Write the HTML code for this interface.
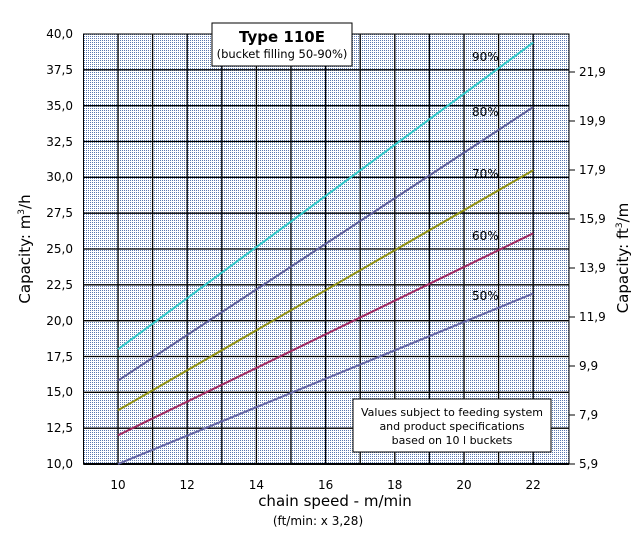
<!DOCTYPE html>
<html><head><meta charset="utf-8"><style>
html,body{margin:0;padding:0;background:#fff;}
svg{display:block;font-family:"DejaVu Sans","Liberation Sans",sans-serif;}
</style></head><body>
<svg width="637" height="540" viewBox="0 0 637 540" xmlns="http://www.w3.org/2000/svg">
<defs>
<pattern id="dots" x="0" y="0" width="2" height="2" patternUnits="userSpaceOnUse">
<rect width="2" height="2" fill="#ffffff" shape-rendering="crispEdges"/>
<rect width="1" height="1" fill="#5a78b0" shape-rendering="crispEdges"/>
</pattern>
</defs>
<rect x="83.5" y="34" width="485.5" height="430" fill="url(#dots)" stroke="#000" stroke-width="1"/>
<g stroke="#000" stroke-width="1.3">
<line x1="118" y1="34" x2="118" y2="464"/><line x1="152.6" y1="34" x2="152.6" y2="464"/>
<line x1="187.2" y1="34" x2="187.2" y2="464"/><line x1="221.8" y1="34" x2="221.8" y2="464"/>
<line x1="256.4" y1="34" x2="256.4" y2="464"/><line x1="291" y1="34" x2="291" y2="464"/>
<line x1="325.6" y1="34" x2="325.6" y2="464"/><line x1="360.2" y1="34" x2="360.2" y2="464"/>
<line x1="394.8" y1="34" x2="394.8" y2="464"/><line x1="429.4" y1="34" x2="429.4" y2="464"/>
<line x1="464" y1="34" x2="464" y2="464"/><line x1="498.6" y1="34" x2="498.6" y2="464"/>
<line x1="533.2" y1="34" x2="533.2" y2="464"/>
<line x1="83.5" y1="69.8" x2="569" y2="69.8"/><line x1="83.5" y1="105.7" x2="569" y2="105.7"/>
<line x1="83.5" y1="141.5" x2="569" y2="141.5"/><line x1="83.5" y1="177.3" x2="569" y2="177.3"/>
<line x1="83.5" y1="213.2" x2="569" y2="213.2"/><line x1="83.5" y1="249" x2="569" y2="249"/>
<line x1="83.5" y1="284.8" x2="569" y2="284.8"/><line x1="83.5" y1="320.7" x2="569" y2="320.7"/>
<line x1="83.5" y1="356.5" x2="569" y2="356.5"/><line x1="83.5" y1="392.3" x2="569" y2="392.3"/>
<line x1="83.5" y1="428.2" x2="569" y2="428.2"/>
<line x1="83.5" y1="464" x2="569" y2="464" stroke-width="2"/>
</g>
<g stroke="#000" stroke-width="1">
<line x1="569" y1="72" x2="575" y2="72"/><line x1="569" y1="121" x2="575" y2="121"/>
<line x1="569" y1="170" x2="575" y2="170"/><line x1="569" y1="219" x2="575" y2="219"/>
<line x1="569" y1="268" x2="575" y2="268"/><line x1="569" y1="317" x2="575" y2="317"/>
<line x1="569" y1="366" x2="575" y2="366"/><line x1="569" y1="415" x2="575" y2="415"/>
<line x1="569" y1="464" x2="575" y2="464"/>
</g>
<g stroke-width="2" fill="none">
<line x1="118" y1="349.3" x2="533.2" y2="42.6" stroke="#30c8c8"/>
<line x1="118" y1="380.6" x2="533.2" y2="107.1" stroke="#5c5c98"/>
<line x1="118" y1="410.3" x2="533.2" y2="170.2" stroke="#909010"/>
<line x1="118" y1="435.3" x2="533.2" y2="233.3" stroke="#a02860"/>
<line x1="118" y1="464" x2="533.2" y2="293.5" stroke="#6464a4"/>
</g>
<g font-size="12" fill="#000">
<text x="472" y="61">90%</text><text x="472" y="116">80%</text>
<text x="472" y="178">70%</text><text x="472" y="240">60%</text>
<text x="472" y="300">50%</text>
</g>
<g font-size="12" fill="#000" text-anchor="end">
<text x="73" y="38">40,0</text><text x="73" y="74">37,5</text><text x="73" y="110">35,0</text>
<text x="73" y="146">32,5</text><text x="73" y="181">30,0</text><text x="73" y="217">27,5</text>
<text x="73" y="253">25,0</text><text x="73" y="289">22,5</text><text x="73" y="325">20,0</text>
<text x="73" y="361">17,5</text><text x="73" y="396">15,0</text><text x="73" y="432">12,5</text>
<text x="73" y="468">10,0</text>
</g>
<g font-size="12" fill="#000">
<text x="579" y="76">21,9</text><text x="579" y="125">19,9</text><text x="579" y="174">17,9</text>
<text x="579" y="223">15,9</text><text x="579" y="272">13,9</text><text x="579" y="321">11,9</text>
<text x="579" y="370">9,9</text><text x="579" y="419">7,9</text><text x="579" y="468">5,9</text>
</g>
<g font-size="12" fill="#000" text-anchor="middle">
<text x="118" y="489">10</text><text x="187.2" y="489">12</text><text x="256.4" y="489">14</text>
<text x="325.6" y="489">16</text><text x="394.8" y="489">18</text><text x="464" y="489">20</text>
<text x="533.2" y="489">22</text>
</g>
<text x="335" y="506" font-size="15" text-anchor="middle">chain speed - m/min</text>
<text x="318" y="525" font-size="12" text-anchor="middle">(ft/min: x 3,28)</text>
<text transform="translate(30,249) rotate(-90)" font-size="15" text-anchor="middle">Capacity: m<tspan font-size="9" dy="-6">3</tspan><tspan dy="6">/h</tspan></text>
<text transform="translate(628,258) rotate(-90)" font-size="15" text-anchor="middle">Capacity:  ft<tspan font-size="9" dy="-6">3</tspan><tspan dy="6">/m</tspan></text>
<rect x="212" y="23" width="140" height="43" fill="#fff" stroke="#000" stroke-width="1"/>
<text x="282" y="42" font-size="15" font-weight="bold" text-anchor="middle">Type 110E</text>
<text x="282" y="58" font-size="11.5" text-anchor="middle">(bucket filling 50-90%)</text>
<rect x="353" y="399" width="198" height="53" fill="#fff" stroke="#000" stroke-width="1"/>
<g font-size="11" text-anchor="middle">
<text x="452" y="416">Values subject to feeding system</text>
<text x="452" y="430">and product specifications</text>
<text x="452" y="444">based on 10 l buckets</text>
</g>
</svg>
</body></html>
